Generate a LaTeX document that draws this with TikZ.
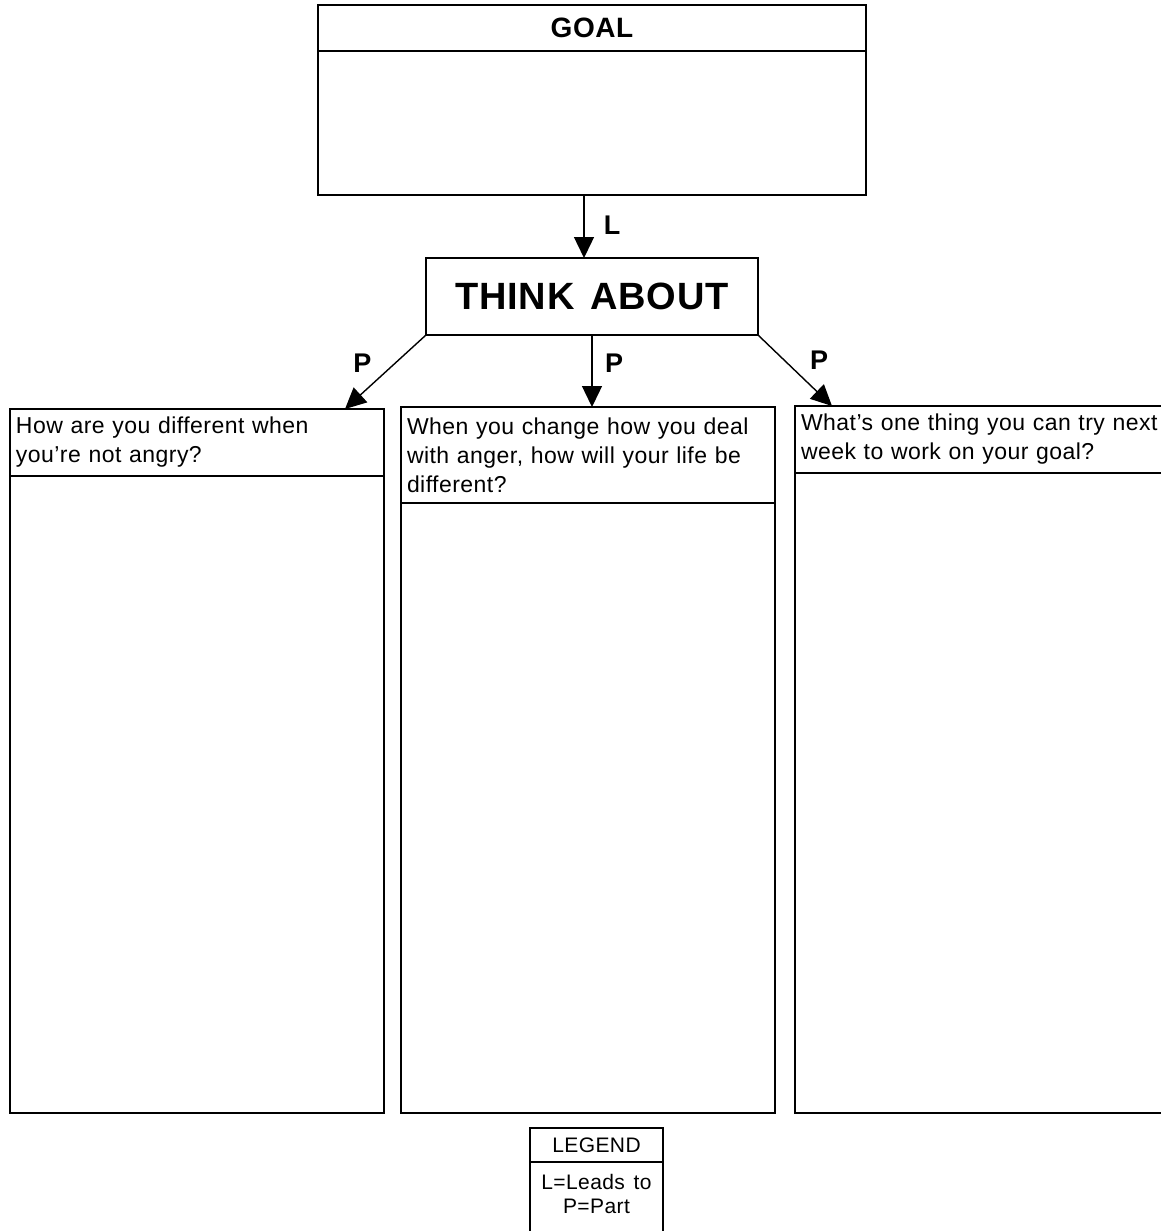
\documentclass[tikz,border=0pt]{standalone}
\usepackage{fontspec}
\setmainfont{Liberation Sans}[LetterSpace=2,WordSpace=1.4]
\usetikzlibrary{positioning,arrows.meta}
\tikzset{every picture/.style={line width=1.6pt}}

\begin{document}
\begin{tikzpicture}[x=1pt,y=-1pt,
		every node/.style={shape=rectangle, inner sep=0pt, outer sep=0pt, color=black},
		box/.style={draw, minimum width=#1},
		head/.style={box=374pt, anchor=north west, inner xsep=6pt, text width=362pt, align=left,
			font=\fontsize{23}{29}\selectfont},
		body/.style={box=374pt, below=0pt of #1},
		lbl/.style={font=\fontsize{27}{27}\selectfont\bfseries},
		arr/.style={-{Triangle[length=21pt,width=20pt]}, line width=1.4pt}
	]
	\useasboundingbox (0,0) rectangle (1161,1231);
	\node[box=548pt, anchor=north west, minimum height=46pt, font=\fontsize{28}{28}\selectfont\bfseries] (goalhead) at (318,5) {GOAL};
	\node[box=548pt, minimum height=144pt, below=0pt of goalhead] (goalbody) {};
	\node[box=332pt, minimum height=77pt, font=\fontsize{38}{38}\selectfont\bfseries] (think) at (592,296.5) {THINK ABOUT};
	\node[head, minimum height=67pt] (lefthead) at (10,409) {How are you different when\\you're not angry?};
	\node[body=lefthead, minimum height=637pt] (leftbody) {};
	\node[head, minimum height=96pt] (midhead) at (401,407) {When you change how you deal\\with anger, how will your life be\\different?};
	\node[body=midhead, minimum height=610pt] (midbody) {};
	\node[head, minimum height=67pt] (righthead) at (795,406) {What's one thing you can try next\\week to work on your goal?};
	\node[body=righthead, minimum height=640pt] (rightbody) {};
	\node[box=133pt, anchor=north west, minimum height=34pt, font=\fontsize{21}{21}\selectfont] (leghead) at (530,1128) {LEGEND};
	\node[box=133pt, minimum height=100pt, below=0pt of leghead] (legbody) {};
	\node[below=12pt of legbody.north, align=center, font=\fontsize{21}{24}\selectfont] (legkey) {L=Leads to\\P=Part};
	\draw[arr] ([xshift=-8pt]goalbody.south) -- ([xshift=-8pt]think.north) node[lbl, midway, xshift=28pt, yshift=1pt] {L};
	\draw[arr] (think.south west) -- ([xshift=-39pt]lefthead.north east) node[lbl, midway, xshift=-23pt, yshift=9pt] {P};
	\draw[arr] (think.south) -- (think.south |- midhead.north) node[lbl, midway, xshift=22pt, yshift=8pt] {P};
	\draw[arr] (think.south east) -- ([xshift=37pt]righthead.north west) node[lbl, midway, xshift=24pt, yshift=10pt] {P};
\end{tikzpicture}
\end{document}
